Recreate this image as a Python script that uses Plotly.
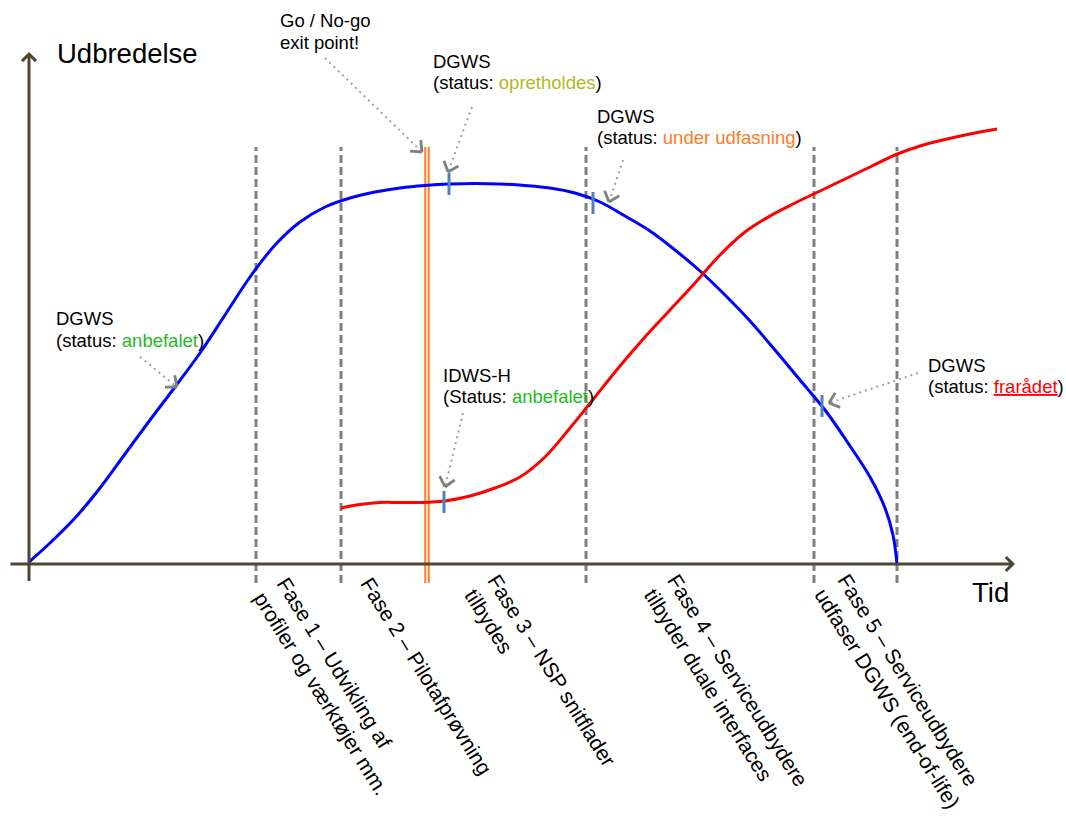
import math
import plotly.graph_objects as go

# ---------------- data (chart units: time t, spread v) ----------------
dgws_t = [0, 21, 46, 71, 96, 121, 146, 171, 196, 221, 246, 271, 296, 321, 346, 371,
          396, 421, 446, 471, 496, 521, 546, 571, 596, 621, 646, 671, 696, 721, 746,
          771, 796, 821, 841, 856, 864, 868]
dgws_v = [2, 21, 46, 76, 110, 144, 177, 211, 249, 287, 319, 342, 357, 366, 372, 376,
          378.5, 380, 380.5, 380, 378.5, 376, 371, 362, 348, 333, 314, 293, 269, 243, 214,
          184, 154, 118, 87, 56, 29, 0]

idws_t = [312, 331, 351, 371, 391, 416, 441, 466, 491, 516, 541, 566, 591, 616, 641,
          666, 691, 716, 741, 766, 791, 816, 841, 866, 891, 916, 941, 968]
idws_v = [56, 59.5, 61.5, 61.5, 61.5, 63, 68, 76, 87, 107, 136, 167, 198, 227, 254,
          281, 309, 332, 348, 361, 373, 385, 397, 409, 418, 424.5, 430, 435]

phase_bounds = [227, 312, 557, 785, 868]
go_nogo_t = 398

phase_labels = [
    "Fase 1 – Udvikling af<br>profiler og værktøjer mm.",
    "Fase 2 – Pilotafprøvning",
    "Fase 3 – NSP snitflader<br>tilbydes",
    "Fase 4 – Serviceudbydere<br>tilbyder duale interfaces",
    "Fase 5 – Serviceudbydere<br>udfaser DGWS (end-of-life)",
]

# status marks on the curves
tick_t = [420, 564, 793, 415]
tick_v = [380, 361, 158, 62]

# callouts: two text lines each
callout_line1 = ["Go / No-go", "DGWS", "DGWS", "DGWS", "IDWS-H", "DGWS"]
callout_line2 = [
    "exit point!",
    "(status: <span style='color:#b3b61c'>opretholdes</span>)",
    "(status: <span style='color:#ff7b22'>under udfasning</span>)",
    "(status: <span style='color:#1fbb1f'>anbefalet</span>)",
    "(Status: <span style='color:#1fbb1f'>anbefalet</span>)",
    "(status: <span style='color:#ff0000'><u>frarådet</u></span>)",
]
# arrow tips (what each callout points at)
tip_t = [393, 419, 580, 148, 416, 800]
tip_v = [412, 392, 362, 177, 77, 161]

axis_y_label = "Udbredelse"
axis_x_label = "Tid"

# ---------------- layout helpers (positions) ----------------
callout_left = [249, 402, 566, 25, 412, 897]
callout_mid1 = [543.3, 502.3, 448, 245.7, 189, 199]
callout_mid2 = [521.5, 482, 427, 224, 168, 177.3]
conn_start_t = [296, 443, 594, 111, 434, 889]
conn_start_v = [506, 457, 404, 207, 151, 191]
phase_label_pos = [(304, -122), (398, -112), (511, -113), (697, -123), (870, -127)]

FONT = "Liberation Sans, Arial, sans-serif"
AXIS_COL = "#4d4630"
GRAY = "#808080"

fig = go.Figure()

# dashed phase boundaries
xs, ys = [], []
for b in phase_bounds:
    xs += [b, b, None]
    ys += [-19, 417, None]
fig.add_trace(go.Scatter(x=xs, y=ys, mode="lines",
                         line=dict(color=GRAY, width=3, dash="8px,4px"), hoverinfo="skip"))

# go/no-go double orange line
fig.add_trace(go.Scatter(x=[go_nogo_t, go_nogo_t], y=[-19, 417], mode="lines",
                         line=dict(color="#ff7f27", width=5.5), hoverinfo="skip"))
fig.add_trace(go.Scatter(x=[go_nogo_t, go_nogo_t], y=[-19, 417], mode="lines",
                         line=dict(color="#ffffff", width=1.4), hoverinfo="skip"))

# curves
fig.add_trace(go.Scatter(x=dgws_t, y=dgws_v, mode="lines", name="DGWS",
                         line=dict(color="#0000ff", width=3, shape="spline", smoothing=1)))
fig.add_trace(go.Scatter(x=idws_t, y=idws_v, mode="lines", name="IDWS-H",
                         line=dict(color="#ff0000", width=3, shape="spline", smoothing=1)))

# status ticks
xs, ys = [], []
for t, v in zip(tick_t, tick_v):
    xs += [t, t, None]
    ys += [v - 11, v + 11, None]
fig.add_trace(go.Scatter(x=xs, y=ys, mode="lines",
                         line=dict(color="#4f81bd", width=3), hoverinfo="skip"))

# dotted connectors
xs, ys = [], []
for s_t, s_v, e_t, e_v in zip(conn_start_t, conn_start_v, tip_t, tip_v):
    xs += [s_t, e_t, None]
    ys += [s_v, e_v, None]
fig.add_trace(go.Scatter(x=xs, y=ys, mode="lines",
                         line=dict(color="#a0a0a0", width=2, dash="2px,4px"), hoverinfo="skip"))

# open chevron heads at the connector tips
xs, ys = [], []
LEG, ANG = 12, math.radians(40)
for s_t, s_v, e_t, e_v in zip(conn_start_t, conn_start_v, tip_t, tip_v):
    back = math.atan2(s_v - e_v, s_t - e_t)
    for sgn in (1, -1):
        a = back + sgn * ANG
        xs += [e_t + LEG * math.cos(a), e_t, None]
        ys += [e_v + LEG * math.sin(a), e_v, None]
fig.add_trace(go.Scatter(x=xs, y=ys, mode="lines",
                         line=dict(color=GRAY, width=2.8), hoverinfo="skip"))

annotations = []
# axes with arrows
annotations.append(dict(x=986, y=0, ax=-20, ay=0, xref="x", yref="y", axref="x", ayref="y",
                        text=" ", font=dict(size=1), showarrow=True, arrowhead=4,
                        arrowwidth=3, arrowsize=0.9, arrowcolor=AXIS_COL))
annotations.append(dict(x=0, y=512, ax=0, ay=-19, xref="x", yref="y", axref="x", ayref="y",
                        text=" ", font=dict(size=1), showarrow=True, arrowhead=4,
                        arrowwidth=3, arrowsize=0.9, arrowcolor=AXIS_COL))

# callout texts
for i in range(len(callout_line1)):
    for txt, ym in ((callout_line1[i], callout_mid1[i]), (callout_line2[i], callout_mid2[i])):
        annotations.append(dict(x=callout_left[i], y=ym, xref="x", yref="y", text=txt,
                                showarrow=False, xanchor="left", yanchor="middle",
                                font=dict(family=FONT, size=18.5, color="#000000")))

# phase labels
for lab, (px, py) in zip(phase_labels, phase_label_pos):
    annotations.append(dict(x=px, y=py, xref="x", yref="y", text=lab, showarrow=False,
                            textangle=58, align="left", xanchor="center", yanchor="middle",
                            font=dict(family=FONT, size=21, color="#000000")))

# axis titles
annotations.append(dict(x=26, y=511, xref="x", yref="y", text=axis_y_label, showarrow=False,
                        xanchor="left", yanchor="middle",
                        font=dict(family=FONT, size=27.5, color="#000000")))
annotations.append(dict(x=941, y=-28, xref="x", yref="y", text=axis_x_label, showarrow=False,
                        xanchor="left", yanchor="middle",
                        font=dict(family=FONT, size=27.5, color="#000000")))

fig.update_layout(
    width=1066, height=816,
    margin=dict(l=0, r=0, t=0, b=0),
    paper_bgcolor="white", plot_bgcolor="white",
    showlegend=False,
    xaxis=dict(range=[-29, 1037], visible=False, fixedrange=True),
    yaxis=dict(range=[-252, 564], visible=False, fixedrange=True),
    annotations=annotations,
    font=dict(family=FONT),
)

fig.write_html("out.html", post_script="document.body.style.margin='0';",
               config={"displayModeBar": False})
